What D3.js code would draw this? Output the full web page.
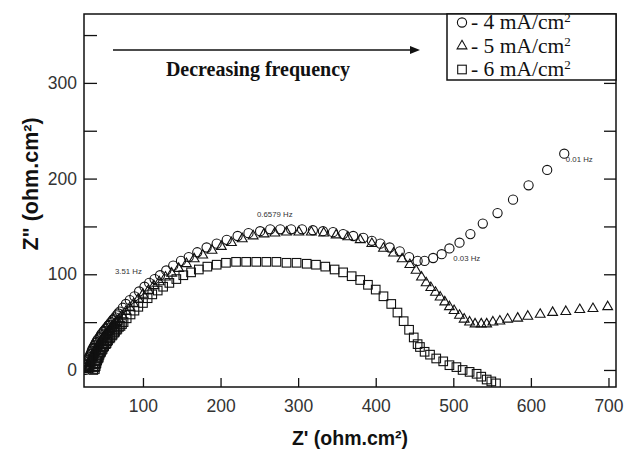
<!DOCTYPE html>
<html>
<head>
<meta charset="utf-8">
<script src="https://cdn.jsdelivr.net/npm/d3@7"></script>
<style>
  body { margin: 0; background: #fff; }
  svg { display: block; }
</style>
</head>
<body>
<svg id="chart" width="625" height="454"></svg>
<script>
// Nyquist data: [Z' , Z''] in ohm.cm2
const current4 = [[26,0],[26,2],[27,3],[27,5],[28,6],[28,8],[29,10],[30,11],[30,13],[31,14],[32,16],[33,17],[34,19],[34,20],[35,22],[36,23],[37,25],[38,26],[39,28],[40,29],[41,31],[42,32],[44,34],[45,35],[46,37],[47,38],[49,40],[50,41],[52,43],[53,44],[55,46],[56,47],[58,49],[59,50],[61,52],[62,53],[64,55],[66,57],[68,59],[70,61],[74,65],[78,69],[83,73],[89,77],[95,82],[102,87],[108,91],[115,95],[122,99],[130,104],[139,109],[149,114],[159,118],[170,123],[182,128],[195,132],[208,136],[222,140],[236,143],[251,145],[264,147],[277,147],[291,147],[305,147],[319,146],[332,145],[345,144],[358,142],[371,140],[384,138],[395,135],[406,132],[418,128],[431,124],[443,118],[454,114],[463,114],[474,117],[485,121],[495,127],[508,133],[522,142],[538,153],[557,164],[577,178],[597,193],[621,209],[643,226]];
const current5 = [[29,0],[30,1],[30,3],[31,4],[31,6],[32,7],[32,9],[33,10],[34,12],[35,13],[35,15],[36,16],[37,18],[38,19],[39,21],[40,22],[41,24],[42,25],[43,27],[44,28],[46,30],[47,31],[48,33],[49,34],[51,36],[52,37],[54,39],[55,40],[57,42],[58,43],[60,45],[61,46],[63,48],[65,49],[67,51],[69,53],[73,57],[78,61],[83,65],[88,69],[94,74],[100,79],[107,83],[114,88],[121,92],[129,97],[137,101],[146,106],[156,111],[166,116],[177,120],[189,125],[201,129],[214,133],[228,137],[242,140],[256,142],[270,143],[285,144],[301,144],[317,144],[333,143],[349,141],[364,139],[380,136],[395,132],[410,127],[423,122],[434,116],[444,110],[452,104],[459,97],[465,91],[471,86],[477,81],[483,76],[489,71],[495,66],[501,62],[508,57],[514,53],[521,50],[528,48],[536,48],[543,48],[551,50],[560,51],[570,53],[583,54],[596,56],[612,58],[628,60],[645,61],[663,63],[680,64],[699,66]];
const current6 = [[36,0],[38,1],[38,3],[39,4],[39,6],[40,7],[40,9],[41,10],[42,12],[43,13],[43,15],[44,16],[45,18],[46,19],[47,21],[48,22],[49,24],[50,25],[52,27],[53,28],[54,30],[55,31],[57,33],[58,34],[60,36],[61,37],[63,39],[64,40],[66,42],[67,43],[69,45],[71,46],[73,48],[75,50],[79,54],[84,58],[89,62],[94,66],[100,70],[106,75],[112,79],[119,83],[126,87],[134,91],[143,95],[152,99],[162,102],[172,105],[183,108],[195,110],[207,112],[220,113],[233,113],[246,113],[259,113],[272,113],[285,112],[298,112],[311,111],[323,110],[335,108],[347,105],[358,102],[369,98],[380,94],[390,89],[400,84],[410,77],[420,69],[428,60],[436,51],[443,42],[449,34],[454,27],[457,24],[463,19],[470,16],[478,12],[487,9],[495,5],[504,3],[512,0],[521,-2],[530,-4],[536,-7],[543,-10],[549,-12],[555,-14]];

const seriesNames = ["- 4 mA/cm", "- 5 mA/cm", "- 6 mA/cm"];
const seriesShapes = ["circle", "triangle", "square"];

const xTickValues = [100, 200, 300, 400, 500, 600, 700];
const yTickValues = [0, 50, 100, 150, 200, 250, 300, 350];
const yLabelValues = [0, 100, 200, 300];

const freqLabels = ["3.51 Hz", "0.6579 Hz", "0.03 Hz", "0.01 Hz"];
const freqLabelZr = [64, 247, 500, 645];
const freqLabelZi = [100, 160, 114, 217];

const svg = d3.select("#chart");
const frame = { left: 84, right: 616, top: 14, bottom: 387 };

const x = d3.scaleLinear().domain([24, 709.7]).range([frame.left, frame.right]);
const y = d3.scaleLinear().domain([-17.8, 372]).range([frame.bottom, frame.top]);

const ink = "#111";
const labelInk = "#333";

// marker shapes
function marker(sel, shape, cx, cy) {
  if (shape === "circle") {
    sel.append("circle").attr("cx", cx).attr("cy", cy).attr("r", 4.6);
  } else if (shape === "triangle") {
    const s = 9.8, h = s * Math.sqrt(3) / 2;
    sel.append("path").attr("d",
      `M${cx},${cy - h * 2 / 3}L${cx + s / 2},${cy + h / 3}L${cx - s / 2},${cy + h / 3}Z`);
  } else {
    const s = 8.6;
    sel.append("rect").attr("x", cx - s / 2).attr("y", cy - s / 2).attr("width", s).attr("height", s);
  }
}

// clip to the frame
svg.append("clipPath").attr("id", "plotclip").append("rect")
  .attr("x", frame.left).attr("y", frame.top)
  .attr("width", frame.right - frame.left).attr("height", frame.bottom - frame.top);

const plot = svg.append("g").attr("clip-path", "url(#plotclip)")
  .attr("fill", "none").attr("stroke", ink).attr("stroke-width", 1.1);

[current4, current5, current6].forEach((data, i) => {
  const g = plot.append("g");
  data.forEach(d => marker(g, seriesShapes[i], x(d[0]), y(d[1])));
});

// axes: ticks pointing inward
const bottomAxis = d3.axisBottom(x).tickValues(xTickValues).tickSizeInner(-9).tickSizeOuter(0).tickPadding(13);
const gx = svg.append("g").attr("transform", `translate(0,${frame.bottom})`).call(bottomAxis);
gx.select(".domain").remove();
gx.selectAll("line").attr("stroke", ink).attr("stroke-width", 1.3);
gx.selectAll("text").attr("font-family", "Liberation Sans, Arial, sans-serif")
  .attr("font-size", 17.5).attr("fill", labelInk);

const leftAxis = d3.axisLeft(y).tickValues(yTickValues).tickSizeInner(-13).tickSizeOuter(0).tickPadding(7)
  .tickFormat(v => yLabelValues.includes(v) ? v : "");
const gy = svg.append("g").attr("transform", `translate(${frame.left},0)`).call(leftAxis);
gy.select(".domain").remove();
gy.selectAll("line").attr("stroke", ink).attr("stroke-width", 1.3);
gy.selectAll("text").attr("font-family", "Liberation Sans, Arial, sans-serif")
  .attr("font-size", 17.5).attr("fill", labelInk);

const rightAxis = d3.axisRight(y).tickValues(yTickValues).tickSizeInner(-12).tickSizeOuter(0).tickFormat("");
const gr = svg.append("g").attr("transform", `translate(${frame.right},0)`).call(rightAxis);
gr.select(".domain").remove();
gr.selectAll("line").attr("stroke", ink).attr("stroke-width", 1.3);

// frame
svg.append("rect").attr("x", frame.left).attr("y", frame.top)
  .attr("width", frame.right - frame.left).attr("height", frame.bottom - frame.top)
  .attr("fill", "none").attr("stroke", ink).attr("stroke-width", 1.5);

// frequency annotations
svg.append("g").selectAll("text").data(freqLabels).join("text")
  .attr("x", (d, i) => x(freqLabelZr[i]))
  .attr("y", (d, i) => y(freqLabelZi[i]))
  .attr("font-family", "Liberation Sans, Arial, sans-serif")
  .attr("font-size", 7.8).attr("fill", "#333")
  .text(d => d);

// frequency direction arrow
const arrowY = 50, arrowX0 = 113, arrowX1 = 420;
svg.append("line").attr("x1", arrowX0).attr("x2", arrowX1 - 6).attr("y1", arrowY).attr("y2", arrowY)
  .attr("stroke", ink).attr("stroke-width", 1.4);
svg.append("path").attr("d", `M${arrowX1},${arrowY}L${arrowX1 - 10},${arrowY - 4}L${arrowX1 - 10},${arrowY + 4}Z`)
  .attr("fill", ink);
svg.append("text").attr("x", 258).attr("y", 76).attr("text-anchor", "middle")
  .attr("font-family", "Liberation Serif, Times New Roman, serif").attr("font-weight", "bold")
  .attr("font-size", 20).attr("fill", ink).text("Decreasing frequency");

// legend
const legend = { x0: 447, y0: frame.top, y1: 80 };
svg.append("rect").attr("x", legend.x0).attr("y", legend.y0)
  .attr("width", frame.right - legend.x0).attr("height", legend.y1 - legend.y0)
  .attr("fill", "#fff").attr("stroke", ink).attr("stroke-width", 1.5);
const lg = svg.append("g");
seriesNames.forEach((name, i) => {
  const base = 29 + i * 23.5;
  const sym = lg.append("g").attr("fill", "none").attr("stroke", ink).attr("stroke-width", 1.1);
  marker(sym, seriesShapes[i], 462, base - 6.5);
  const t = lg.append("text").attr("x", 471).attr("y", base)
    .attr("font-family", "Liberation Serif, Times New Roman, serif")
    .attr("font-size", 21.5).attr("fill", ink);
  t.append("tspan").text(" " + name);
  t.append("tspan").attr("dy", -7).attr("font-size", 13).text("2");
});

// axis titles
svg.append("text").attr("x", 350).attr("y", 445).attr("text-anchor", "middle")
  .attr("font-family", "Liberation Sans, Arial, sans-serif").attr("font-weight", "bold")
  .attr("font-size", 19.5).attr("fill", ink).text("Z' (ohm.cm²)");
svg.append("text").attr("transform", "translate(38,184) rotate(-90)").attr("text-anchor", "middle")
  .attr("font-family", "Liberation Sans, Arial, sans-serif").attr("font-weight", "bold")
  .attr("font-size", 21.5).attr("fill", ink).text("Z\" (ohm.cm²)");
</script>
</body>
</html>
